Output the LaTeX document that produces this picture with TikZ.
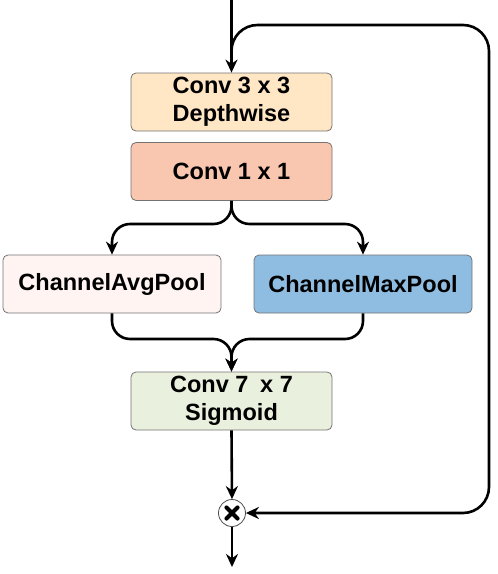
\documentclass[tikz,border=0pt]{standalone}
\usepackage{fontspec}
\setmainfont{Liberation Sans}
\usetikzlibrary{arrows.meta}
\definecolor{dwfill}{HTML}{FFE6C4}
\definecolor{pwfill}{HTML}{F9C6B0}
\definecolor{avgfill}{HTML}{FFF4F2}
\definecolor{maxfill}{HTML}{8FBDE1}
\definecolor{sigfill}{HTML}{E9F0DD}
\begin{document}
\begin{tikzpicture}[x=1pt, y=-1pt, line width=2.6pt, >={Stealth[length=13pt,width=12pt]},
block/.style={draw=black!55,line width=0.8pt,rounded corners=5pt,minimum width=201pt,minimum height=58pt,inner sep=0pt,align=center,font=\fontsize{23.5}{28}\selectfont\bfseries},
wide block/.style={block,minimum width=218pt},
mul node/.style={circle,draw=black!70,line width=0.8pt,fill=white,minimum size=27pt,inner sep=0pt}]
\useasboundingbox (0,0) rectangle (498,574);
\begin{scope}
\node[block,fill=dwfill] (dw) at (231.5,102) {Conv 3 x 3\\Depthwise};%depthwise
\node[block,fill=pwfill] (pw) at (231.5,171.5) {Conv 1 x 1};%pointwise
\node[wide block,fill=avgfill] (avg) at (112,284) {ChannelAvgPool};
\node[wide block,fill=maxfill] (max) at (363,284) {ChannelMaxPool};
\node[block,fill=sigfill] (sig) at (231.5,401) {Conv 7\enspace x 7\\Sigmoid};
\node[mul node] (mul) at (232,513) {};
\coordinate (in) at (231.5,0);
\coordinate (split) at (231.5,58);
\coordinate (out) at (232,567);
\end{scope}
\begin{scope}[rounded corners=18pt]
\draw[line width=4.2pt,line cap=round] ([shift={(-5.5pt,-5.5pt)}]mul.center) -- ([shift={(5.5pt,5.5pt)}]mul.center);
\draw[line width=4.2pt,line cap=round] ([shift={(-5.5pt,5.5pt)}]mul.center) -- ([shift={(5.5pt,-5.5pt)}]mul.center);
\draw[->] (in) -- (dw.north);
\draw[->] (pw.south) |- (112,224) -- (avg.north);
\draw[->] (pw.south) |- (363,224) -- (max.north);
\draw[->] (avg.south) |- (231.5,339) -- (sig.north);
\draw[->] (max.south) |- (231.5,339) -- (sig.north);
\draw[->] (sig.south) -- (mul.north);
\draw[->] (mul.south) -- (out);
\draw[->,rounded corners=26pt] (split) |- (489,25) |- (mul.east);
\end{scope}
\end{tikzpicture}
\end{document}
